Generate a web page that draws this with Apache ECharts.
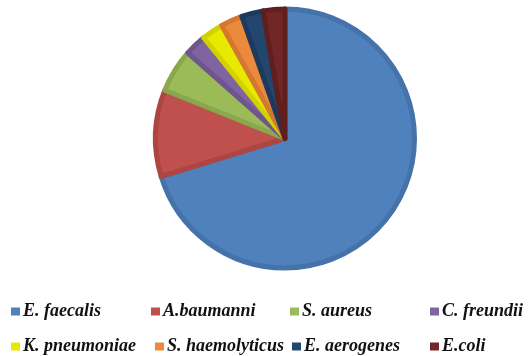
<!DOCTYPE html>
<html>
<head>
<meta charset="utf-8">
<script src="https://cdn.jsdelivr.net/npm/echarts@6/dist/echarts.min.js"></script>
<style>
  html, body { margin: 0; padding: 0; background: #fff; }
  #chart { width: 530px; height: 356px; }
</style>
</head>
<body>
<div id="chart"></div>
<script>
// Isolate counts per species
const species = ['E. faecalis', 'A.baumanni', 'S. aureus', 'C. freundii',
                 'K. pneumoniae', 'S. haemolyticus', 'E. aerogenes', 'E.coli'];
const counts = [26, 4, 2, 1, 1, 1, 1, 1];

const fills   = ['#4F81BD', '#C0504D', '#9BBB59', '#8064A2', '#E8E800', '#EB8A3C', '#23466F', '#722626'];
const borders = ['#4572A9', '#AD4542', '#89A84C', '#6F5590', '#D2D200', '#D47730', '#1C3A5E', '#5F1F1F'];

// legend layout: [left, top] of each entry's marker
const legendPos = [
  [11, 302.5], [151, 302.5], [290, 302.5], [430, 302.5],
  [11, 337.5], [155, 337.5], [292, 337.5], [430, 337.5]
];

const legends = species.map((name, i) => ({
  data: [name],
  left: legendPos[i][0],
  top: legendPos[i][1],
  orient: 'horizontal',
  itemWidth: 9,
  itemHeight: 8,
  padding: 0,
  icon: 'rect',
  selectedMode: false,
  itemStyle: { borderWidth: 0 },
  textStyle: {
    fontFamily: 'Liberation Serif',
    fontStyle: 'italic',
    fontWeight: 'bold',
    fontSize: 18,
    color: '#111',
    padding: [1, 0, 0, -2]
  }
}));

const chart = echarts.init(document.getElementById('chart'), null, { renderer: 'canvas' });
chart.setOption({
  animation: false,
  legend: legends,
  series: [{
    type: 'pie',
    center: [285, 138.5],
    radius: 129.5,
    startAngle: 90,
    clockwise: true,
    label: { show: false },
    labelLine: { show: false },
    emphasis: { disabled: true },
    data: species.map((name, i) => ({
      name,
      value: counts[i],
      itemStyle: { color: fills[i], borderColor: borders[i], borderWidth: 5, borderJoin: 'round' }
    }))
  }]
});
</script>
</body>
</html>
